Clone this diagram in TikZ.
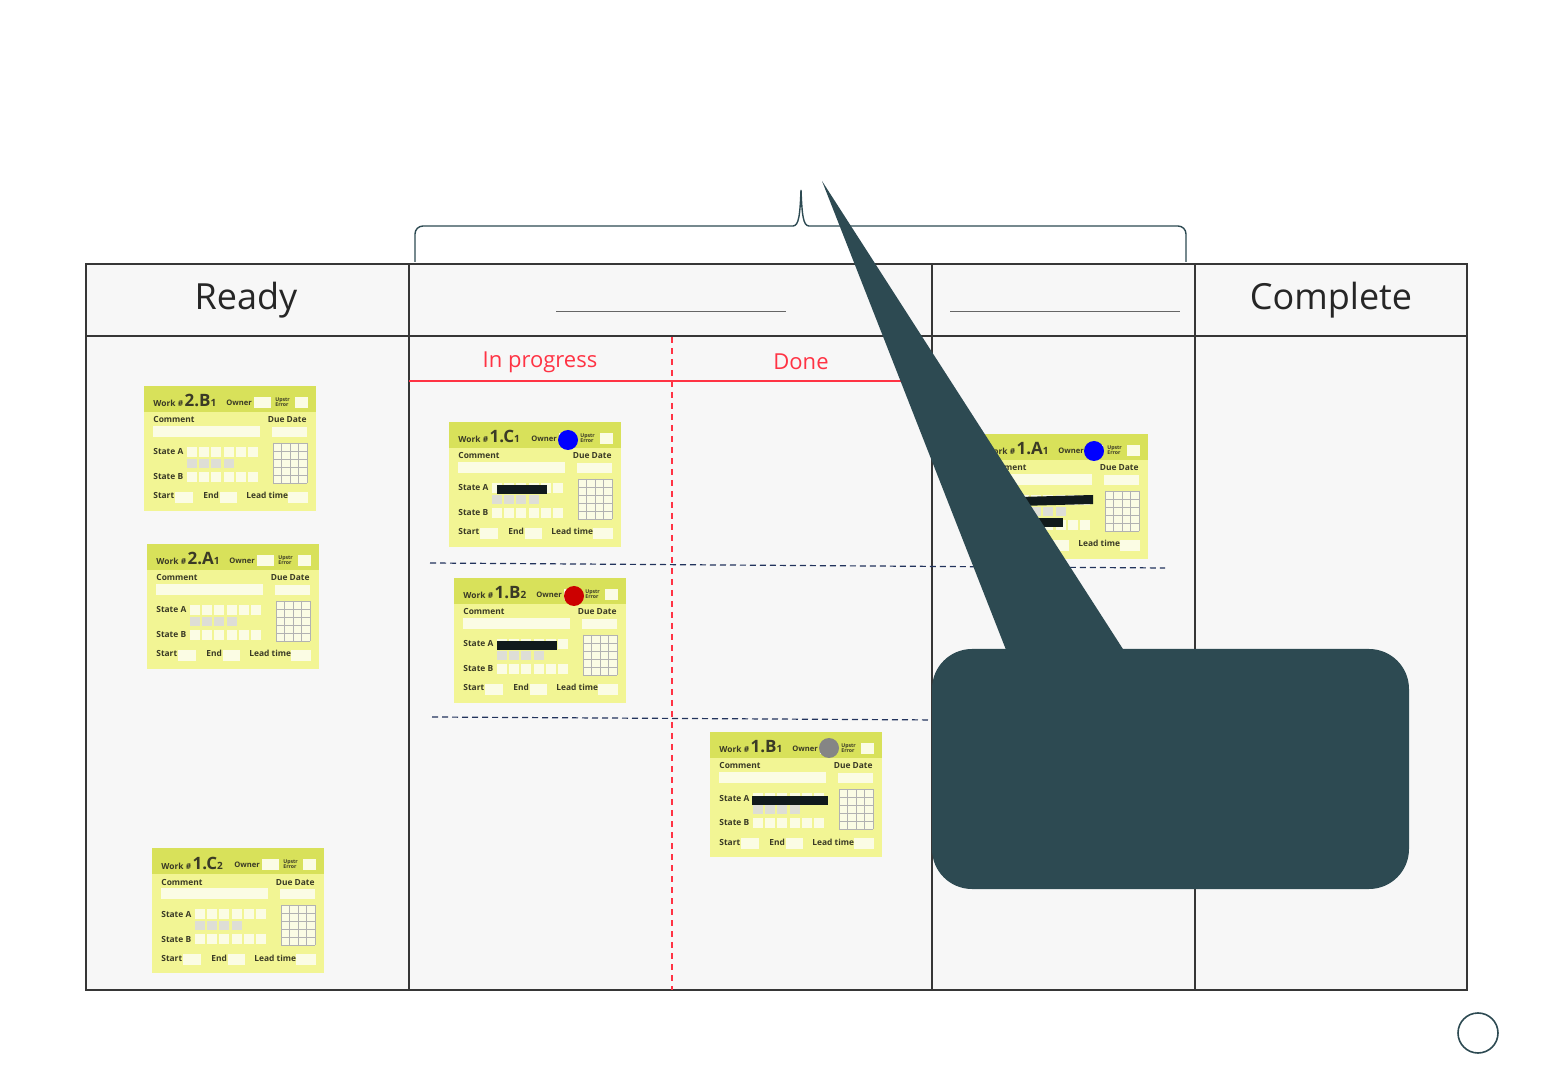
\documentclass[tikz,border=0pt]{standalone}
\usepackage{xcolor}
\usepackage{fontspec}
\setmainfont{Open Sans}
\usepackage{tikz}
\usetikzlibrary{arrows.meta, positioning, calc}
\definecolor{boardfill}{HTML}{F7F7F7}
\definecolor{boardline}{HTML}{363636}
\definecolor{kanbanred}{HTML}{FF3344}
\definecolor{lanenavy}{HTML}{22335C}
\definecolor{slate}{HTML}{2D4A52}
\definecolor{cardbody}{HTML}{F2F594}
\definecolor{cardband}{HTML}{D8E15A}
\definecolor{cardfield}{HTML}{FBFCE4}
\definecolor{cardgray}{HTML}{DEDED6}
\definecolor{cardtext}{HTML}{3A3A26}
\definecolor{redact}{HTML}{111A1C}
\tikzset{
    headtext/.style={
        font=\fontsize{18}{22}\selectfont, text=black!85, inner sep=0pt
    },
    subhead/.style={
        font=\fontsize{11}{13}\selectfont, text=kanbanred, inner sep=0pt
    },
    cardlabel/.style={
        font=\bfseries\fontsize{4.2}{5}\selectfont, text=cardtext, inner sep=0pt
    },
    cardtiny/.style={
        font=\bfseries\fontsize{2.6}{2.8}\selectfont, text=cardtext,
        align=left, inner sep=0pt
    },
    cardgrid/.style={
        draw=black!30, line width=0.25pt
    },
    ownerdot/.style={
        circle, fill=#1, minimum size=10pt, inner sep=0pt
    },
    ownerdot/.default=blue,
    swimlane/.style={
        dash pattern=on 3pt off 2pt, line width=0.6pt, color=lanenavy
    },
    blankline/.style={
        line width=0.5pt, color=black!60
    },
}
% one kanban card, top left corner at #1
\newcommand{\workcard}[4]{%
  \begin{scope}[shift={(#1)}]
    \fill[cardbody] (0,0) rectangle (172,125);
    \fill[cardband] (0,0) rectangle (172,26);
    \node[cardlabel, anchor=base west] (#2-id) at (9,21)
        {Work \#\,{\fontsize{8.5}{9}\selectfont #3}{\fontsize{5}{6}\selectfont #4}};
    \node[cardlabel, anchor=base west, font=\bfseries\fontsize{3.8}{4.5}\selectfont] (#2-owner) at (82,19.5) {Owner};
    \fill[cardfield] (110,11) rectangle (127,22);
    \node[cardtiny, anchor=west] (#2-upstr) at (131,16) {Upstr\\Error};
    \fill[cardfield] (151,11) rectangle (164,22);
    \node[cardlabel, anchor=base west] (#2-comment) at (9,37) {Comment};
    \fill[cardfield] (9,40) rectangle (116,51);
    \node[cardlabel, anchor=base east] (#2-due) at (163,37) {Due Date};
    \fill[cardfield] (128,41) rectangle (163,51);
    \node[cardlabel, anchor=base west] (#2-sa) at (9,69) {State A};
    \node[cardlabel, anchor=base west] (#2-sb) at (9,94) {State B};
    \foreach \i in {0,...,5} {
        \fill[cardfield] (43+\i*12.2,61) rectangle ++(10,10);
        \fill[cardfield] (43+\i*12.2,86) rectangle ++(10,10);
    }
    \foreach \i in {0,...,3}
        \fill[cardgray] (43+\i*12.2,73) rectangle ++(10,9);
    \fill[cardfield] (129,57) rectangle (163,97);
    \foreach \i in {0,...,4}
        \draw[cardgrid] (129+\i*8.5,57) -- (129+\i*8.5,97);
    \foreach \j in {0,...,5}
        \draw[cardgrid] (129,57+\j*8) -- (163,57+\j*8);
    \node[cardlabel, anchor=base west] (#2-start) at (9,113) {Start};
    \fill[cardfield] (31,106) rectangle (49,117);
    \node[cardlabel, anchor=base west] (#2-end) at (59,113) {End};
    \fill[cardfield] (76,106) rectangle (93,117);
    \node[cardlabel, anchor=base west] (#2-lead) at (102,113) {Lead time};
    \fill[cardfield] (144,106) rectangle (164,117);
  \end{scope}}

\begin{document}
\begin{tikzpicture}[x=0.5pt, y=-0.5pt]
    \useasboundingbox (0,0) rectangle (1560,1080);

    % Board
    \fill[boardfill] (86,264) rectangle (1467,990);
    \draw[boardline, line width=0.6pt] (86,336) -- (1467,336);
    \foreach \cx in {409,932,1195}
        \draw[boardline, line width=0.6pt] (\cx,264) -- (\cx,990);
    \draw[boardline, line width=1pt] (86,264) rectangle (1467,990);

    % Column headers
    \node[headtext] (ready) at (246,300) {Ready};
    \node[headtext] (complete) at (1331,300) {Complete};
    \draw[blankline] (556,312) -- (786,312);
    \draw[blankline] (950,312) -- (1180,312);

    % Sub columns
    \draw[kanbanred, line width=0.8pt] (409,381) -- (932,381);
    \draw[kanbanred, line width=0.7pt, dash pattern=on 3pt off 2.5pt] (672,337) -- (672,990);
    \node[subhead] (inprog) at (540,362) {In progress};
    \node[subhead] (done) at (801,362) {Done};

    % Swim lanes
    \draw[swimlane] (430,563) -- (1165,568);
    \draw[swimlane] (432,717) -- (940,720);

    % Brace over the working columns
    \draw[slate, line width=0.7pt] (415,262) -- (415,234) to[out=90, in=180] (423,226)
        -- (793,226) .. controls (799,226) and (800,214) .. (801,190)
        .. controls (802,214) and (803,226) .. (809,226) -- (1178,226)
        to[out=0, in=90] (1186,234) -- (1186,262);

    % Cards
    \workcard{144,386}{c2B1}{2.B}{1}
    \workcard{147,544}{c2A1}{2.A}{1}
    \workcard{152,848}{c1C2}{1.C}{2}
    \workcard{449,422}{c1C1}{1.C}{1}
    \workcard{454,578}{c1B2}{1.B}{2}
    \workcard{710,732}{c1B1}{1.B}{1}
    \workcard{976,434}{c1A1}{1.A}{1}

    % Redacted states
    \fill[redact] (497,485) rectangle (547,494);
    \fill[redact] (497,641) rectangle (557,650);
    \fill[redact] (752,796) rectangle (828,805);
    \fill[redact] (1019,497) -- (1093,495) -- (1093,504) -- (1019,506) -- cycle;
    \fill[redact] (1019,518) rectangle (1063,527);

    % Owners
    \node[ownerdot=blue] (own1C1) at (568,440) {};
    \node[ownerdot=red!80!black] (own1B2) at (574,596) {};
    \node[ownerdot=black!48] (own1B1) at (829,748) {};
    \node[ownerdot=blue] (own1A1) at (1094,451) {};

    % Callout
    \fill[slate, rounded corners=20pt] (932,649) rectangle (1409,889);
    \fill[slate] (822,181) -- (1010,660) -- (1130,660) -- cycle;

    % Page marker
    \node[circle, draw=slate, line width=0.8pt, fill=white, minimum size=20pt, inner sep=0pt] (marker) at (1478,1033) {};

\end{tikzpicture}
\end{document}
